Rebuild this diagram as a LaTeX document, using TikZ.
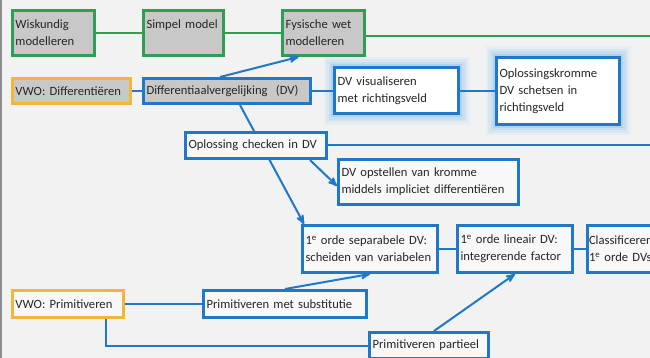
\documentclass[tikz,border=0pt]{standalone}
\usepackage{fontspec}
\setmainfont{Carlito}
\usepackage{tikz}
\usetikzlibrary{arrows,positioning,backgrounds}
\hyphenpenalty=10000
\definecolor{achter}{HTML}{F2F2F2}
\definecolor{groen}{HTML}{2E9E55}
\definecolor{blauw}{HTML}{1F78C8}
\definecolor{oranje}{HTML}{F2B63C}
\definecolor{grijs}{HTML}{C8C8C8}
\definecolor{gloed}{HTML}{5AAEF0}
\tikzstyle{kader}=[
	draw,
	line width=3pt,
	inner xsep=3pt,
	inner ysep=2pt,
	align=left,
	anchor=north west,
	text=black!85,
	font=\fontsize{12.6}{17}\selectfont
]
\tikzstyle{groenkader}=[
	kader,
	draw=groen,
	fill=grijs
]
\tikzstyle{oranjekader}=[
	kader,
	draw=oranje,
	fill=white!50!achter
]
\tikzstyle{blauwkader}=[
	kader,
	draw=blauw,
	fill=white!50!achter
]
\tikzstyle{gloei}=[
	preaction={draw=gloed, rounded corners=9pt, line width=22pt, opacity=0.07},
	preaction={draw=gloed, rounded corners=7pt, line width=17pt, opacity=0.1},
	preaction={draw=gloed, rounded corners=5pt, line width=12pt, opacity=0.14},
	preaction={draw=gloed, rounded corners=3pt, line width=7pt, opacity=0.22}
]
\tikzstyle{groenlijn}=[
	-,
	line width=2pt,
	draw=groen
]
\tikzstyle{lijn}=[
	-,
	line width=2pt,
	draw=blauw
]
\tikzstyle{pijl}=[
	lijn,
	-stealth'
]
\begin{document}
\begin{tikzpicture}[x=1pt,y=1pt]
\begin{pgfonlayer}{background}
\fill[achter] (0,0) rectangle (650,-358);
\fill[black!45] (0,0) rectangle (2,-358);
\end{pgfonlayer}
\useasboundingbox (0,0) rectangle (650,-358);
\coordinate (rand) at (655,0);

% bovenste rij
\node[groenkader, text width=76pt, minimum height=45pt] (wisk) at (11,-9) {Wiskundig\\modelleren};
\node[groenkader, text width=74pt, minimum height=45pt, right=46pt of wisk] (simpel) {Simpel model\\\mbox{}};
\node[groenkader, text width=76pt, minimum height=45pt, right=56pt of simpel] (fys) {Fysische wet\\modelleren};

% differentieren
\node[oranjekader, fill=grijs, text width=112pt, minimum height=25pt] (vwod) at (11,-77) {VWO: Differenti\"eren};
\node[blauwkader, fill=grijs, text width=161pt, minimum height=25pt, right=10pt of vwod] (diff) {Differentiaalvergelijking\ \ (DV)};
\node[blauwkader, fill=white, gloei, text width=118pt, minimum height=46pt, right=21pt of diff] (dvvis) {DV visualiseren\\met richtingsveld};
\node[blauwkader, fill=white, gloei, text width=117pt, minimum height=67pt, right=35pt of dvvis] (kromme) {Oplossingskromme\\DV schetsen in\\richtingsveld};
\node[blauwkader, text width=135pt, minimum height=26pt] (check) at (184,-131) {Oplossing checken in DV};
\node[blauwkader, text width=174pt, minimum height=45pt] (opst) at (337,-158) {DV opstellen van kromme\\middels impliciet differenti\"eren};

% eerste orde
\node[blauwkader, text width=129pt, minimum height=47pt] (sep) at (301,-224) {1\textsuperscript{e} orde separabele DV:\\scheiden van variabelen};
\node[blauwkader, text width=109pt, minimum height=47pt, right=17pt of sep] (lin) {1\textsuperscript{e} orde lineair DV:\\integrerende factor};
\node[blauwkader, inner xsep=1.5pt, text width=100pt, minimum height=47pt, right=12pt of lin] (klas) {Classificeren\\1\textsuperscript{e} orde DVs};

% primitiveren
\node[oranjekader, text width=105pt, minimum height=27pt] (vwop) at (11,-289) {VWO: Primitiveren};
\node[blauwkader, text width=157pt, minimum height=27pt, right=77pt of vwop] (subst) {Primitiveren met substitutie};
\node[blauwkader, text width=113pt, minimum height=26pt] (part) at (368,-331) {Primitiveren partieel};

\draw[groenlijn] (wisk) -- (simpel);
\draw[groenlijn] (simpel) -- (fys);
\draw[groenlijn] ([yshift=-3pt]fys.east) -- ([yshift=-3pt]fys.east -| rand);

\draw[lijn] (vwod) -- (diff);
\draw[pijl] ([xshift=-7pt]diff.north) -- ([xshift=-25pt]fys.south);
\draw[lijn] (diff) -- (dvvis);
\draw[lijn] (dvvis) -- (kromme);
\draw[lijn] (check.east) -- (check.east -| rand);
\draw[pijl] ([xshift=-18pt]check.south east) -- ([yshift=-4pt]opst.west);
\draw[lijn] (sep) -- (lin);
\draw[lijn] (lin) -- (klas);
\draw[lijn] (vwop) -- (subst);
\draw[pijl] (subst.north) -- (sep.south);
\draw[lijn] ([xshift=38pt]vwop.south) |- (part.west);
\draw[pijl] ([xshift=5pt]part.north) -- (lin.south);
\begin{pgfonlayer}{background}
\draw[pijl] ([xshift=13pt]diff.south) -- ([xshift=3pt]sep.north west);
\end{pgfonlayer}
\end{tikzpicture}
\end{document}
